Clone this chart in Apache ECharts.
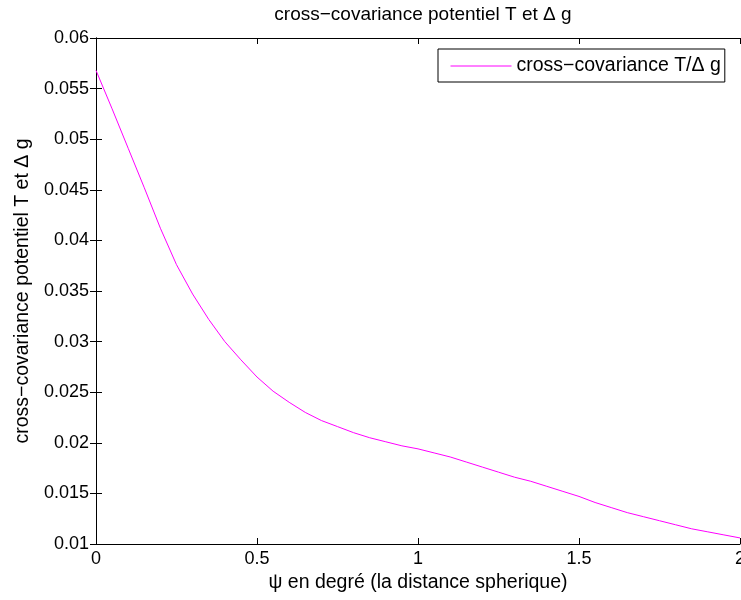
<!DOCTYPE html>
<html>
<head>
<meta charset="utf-8">
<script src="https://cdn.jsdelivr.net/npm/echarts@6/dist/echarts.min.js"></script>
<style>
html,body{margin:0;padding:0;background:#fff;}
#main{width:741px;height:600px;}
</style>
</head>
<body>
<div id="main"></div>
<script>
const psi = [0,0.05,0.1,0.15,0.2,0.25,0.3,0.35,0.4,0.45,0.5,0.55,0.6,0.65,0.7,0.75,0.8,0.85,0.9,0.95,1.0,1.05,1.1,1.15,1.2,1.25,1.3,1.35,1.4,1.45,1.5,1.55,1.6,1.65,1.7,1.75,1.8,1.85,1.9,1.95,2.0];
const crossCov = [0.0568,0.0530,0.0491,0.0452,0.0412,0.0376,0.0347,0.0322,0.0300,0.0282,0.0265,0.0251,0.0240,0.0230,0.0222,0.0216,0.0210,0.0205,0.0201,0.0197,0.0194,0.0190,0.0186,0.0181,0.0176,0.0171,0.0166,0.0162,0.0157,0.0152,0.0147,0.0141,0.0136,0.0131,0.0127,0.0123,0.0119,0.0115,0.0112,0.0109,0.0106];
const xTicks = [0,0.5,1,1.5,2];
const titleText = 'cross\u2212covariance potentiel T et \u0394 g';
const xName = '\u03c8 en degré (la distance spherique)';
const yName = 'cross\u2212covariance potentiel T et \u0394 g';
const seriesName = 'cross\u2212covariance T/\u0394 g';

const FONT = 'Liberation Sans';
const FS = 19.5;
const TFS = 18;
const chart = echarts.init(document.getElementById('main'), null, {renderer:'canvas'});
const axLine = {show:true, lineStyle:{color:'#000', width:1}};
const tick = {show:true, inside:true, length:6, lineStyle:{color:'#000'}};
chart.setOption({
  animation:false,
  backgroundColor:'#fff',
  title:{text:titleText, left:418, textAlign:'center', top:0, textStyle:{fontFamily:FONT, fontSize:19, fontWeight:'normal', color:'#000'}},
  legend:{
    left:438, top:49, orient:'horizontal',
    borderColor:'#000', borderWidth:1, backgroundColor:'#fff',
    padding:[7,4,6,12], itemWidth:61, itemHeight:20, itemGap:6,
    itemStyle:{opacity:0},
    lineStyle:{color:'#ff00ff', width:1},
    textStyle:{fontFamily:FONT, fontSize:FS, color:'#000'},
    data:[{name:seriesName}]
  },
  grid:{left:96, right:1, top:38, bottom:56, show:false, containLabel:false, outerBoundsMode:'none'},
  xAxis:[{
    type:'value', min:0, max:2, interval:0.5, position:'bottom',
    name:xName, nameLocation:'middle', nameGap:26,
    nameTextStyle:{fontFamily:FONT, fontSize:FS, color:'#000'},
    axisLine:axLine, axisTick:tick, splitLine:{show:false},
    axisLabel:{fontFamily:FONT, fontSize:TFS, color:'#000', margin:6,
      formatter:v => xTicks.includes(+v.toFixed(2)) ? String(+v.toFixed(2)) : ''}
  },{
    type:'value', min:0, max:2, interval:0.5, position:'top',
    axisLine:axLine, axisTick:tick, splitLine:{show:false}, axisLabel:{show:false}
  }],
  yAxis:[{
    type:'value', min:0.01, max:0.06, interval:0.005, position:'left',
    name:yName, nameLocation:'middle', nameGap:63,
    nameTextStyle:{fontFamily:FONT, fontSize:FS, color:'#000'},
    axisLine:axLine, axisTick:tick, splitLine:{show:false},
    axisLabel:{fontFamily:FONT, fontSize:TFS, color:'#000', margin:7,
      formatter:v => String(+v.toFixed(3))}
  },{
    type:'value', min:0.01, max:0.06, interval:0.005, position:'right',
    axisLine:axLine, axisTick:tick, splitLine:{show:false}, axisLabel:{show:false}
  }],
  series:[{
    name:seriesName, type:'line', symbol:'none', smooth:false,
    lineStyle:{color:'#ff00ff', width:1}, itemStyle:{color:'#ff00ff'},
    data:psi.map((x,i)=>[x, crossCov[i]])
  }]
});
</script>
</body>
</html>
